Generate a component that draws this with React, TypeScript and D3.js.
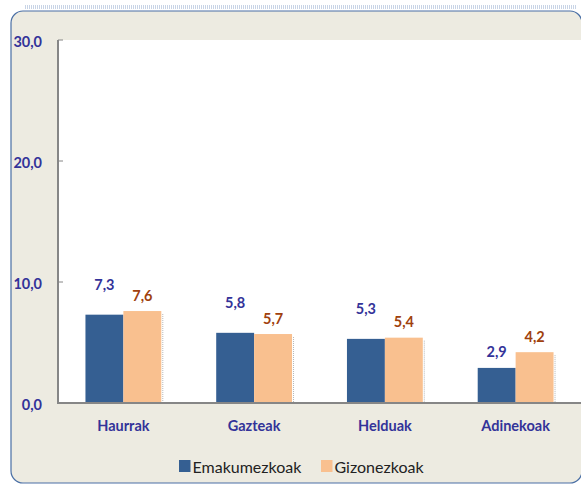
import React from "react";
import * as d3 from "d3";

const categories = ["Haurrak", "Gazteak", "Helduak", "Adinekoak"];
const seriesNames = ["Emakumezkoak", "Gizonezkoak"];
const emakumezkoak = [7.3, 5.8, 5.3, 2.9];
const gizonezkoak = [7.6, 5.7, 5.4, 4.2];
const yTicks = [0, 10, 20, 30];

const W = 581;
const H = 485;
const FONT = "Lato, 'DejaVu Sans', sans-serif";
const BLUE = "#355F92";
const PEACH = "#F9C08F";
const LABEL_BLUE = "#333399";
const LABEL_BROWN = "#A0410D";

const margin = { top: 40, right: 0, bottom: 82, left: 58 };

const App = () => {
  const x = d3
    .scaleBand()
    .domain(categories)
    .range([margin.left, W - margin.right])
    .paddingInner(0.42)
    .paddingOuter(0.21);
  const inner = d3
    .scaleBand()
    .domain(seriesNames)
    .range([0, x.bandwidth()]);
  const y = d3.scaleLinear().domain([0, 30]).range([H - margin.bottom, margin.top]);
  const fmt = (v: number) => d3.format(".1f")(v).replace(".", ",");

  const series = [emakumezkoak, gizonezkoak];
  const colors = [BLUE, PEACH];
  const labelColors = [LABEL_BLUE, LABEL_BROWN];

  // labels of near-equal pairs are pushed apart vertically
  const labelOffset = (s: number, i: number) => {
    if (s === 0 && emakumezkoak[i] >= gizonezkoak[i] - 0.5) return 30;
    return 16;
  };

  return (
    <svg
      width={W}
      height={H}
      style={{ position: "absolute", left: 0, top: 0 }}
      fontFamily={FONT}
    >
      <rect x={0} y={0} width={W} height={H} fill="#ffffff" />
      <line x1={25} x2={W - 4} y1={7} y2={7} stroke="#c8d4e6" strokeWidth={4} strokeDasharray="1 1" />
      <rect
        x={11}
        y={11}
        width={571}
        height={472}
        rx={12}
        fill="#EDEBE1"
        stroke="#4A6FA5"
        strokeWidth={1.2}
      />
      <rect
        x={margin.left}
        y={margin.top}
        width={W - margin.left}
        height={y(0) - margin.top}
        fill="#ffffff"
      />

      {/* bars */}
      {categories.map((c, i) => (
        <g key={c} transform={`translate(${x(c)},0)`}>
          {series.map((vals, s) => {
            const bx = inner(seriesNames[s])!;
            const by = y(vals[i]);
            const bw = inner.bandwidth();
            return (
              <g key={s}>
                <line
                  x1={bx + bw + 1.5}
                  x2={bx + bw + 1.5}
                  y1={by + 3}
                  y2={y(0)}
                  stroke="#b5b5b5"
                  strokeWidth={1}
                  strokeDasharray="1 1"
                />
                <rect x={bx} y={by} width={bw} height={y(0) - by} fill={colors[s]} />
                <text
                  x={bx + bw / 2}
                  y={by - labelOffset(s, i)}
                  textAnchor="middle"
                  dominantBaseline="central"
                  fontSize={14.5}
                  fontWeight="bold"
                  fill={labelColors[s]}
                >
                  {fmt(vals[i])}
                </text>
              </g>
            );
          })}
          <text
            x={x.bandwidth() / 2}
            y={y(0) + 22}
            textAnchor="middle"
            dominantBaseline="central"
            fontSize={14.5}
            fontWeight="bold"
            fill={LABEL_BLUE}
          >
            {c}
          </text>
        </g>
      ))}

      {/* axes */}
      <line x1={margin.left} x2={margin.left} y1={margin.top} y2={y(0)} stroke="#868686" strokeWidth={2} />
      <line x1={margin.left - 1} x2={W} y1={y(0)} y2={y(0)} stroke="#868686" strokeWidth={2} />
      {yTicks.map((t) => (
        <g key={t}>
          <line x1={margin.left} x2={margin.left + 5} y1={y(t)} y2={y(t)} stroke="#868686" strokeWidth={1} />
          <text
            x={42}
            y={y(t) + 1.5}
            textAnchor="end"
            dominantBaseline="central"
            fontSize={14.5}
            fontWeight="bold"
            fill={LABEL_BLUE}
          >
            {fmt(t)}
          </text>
        </g>
      ))}

      {/* legend */}
      {seriesNames.map((n, s) => {
        const lx = s === 0 ? 179 : 321;
        return (
          <g key={n} transform={`translate(${lx},460)`}>
            <rect x={0} y={0} width={11.5} height={12} fill={colors[s]} />
            <text x={13.5} y={6.5} dominantBaseline="central" fontSize={16} fill="#222">
              {n}
            </text>
          </g>
        );
      })}
    </svg>
  );
};

export default App;
